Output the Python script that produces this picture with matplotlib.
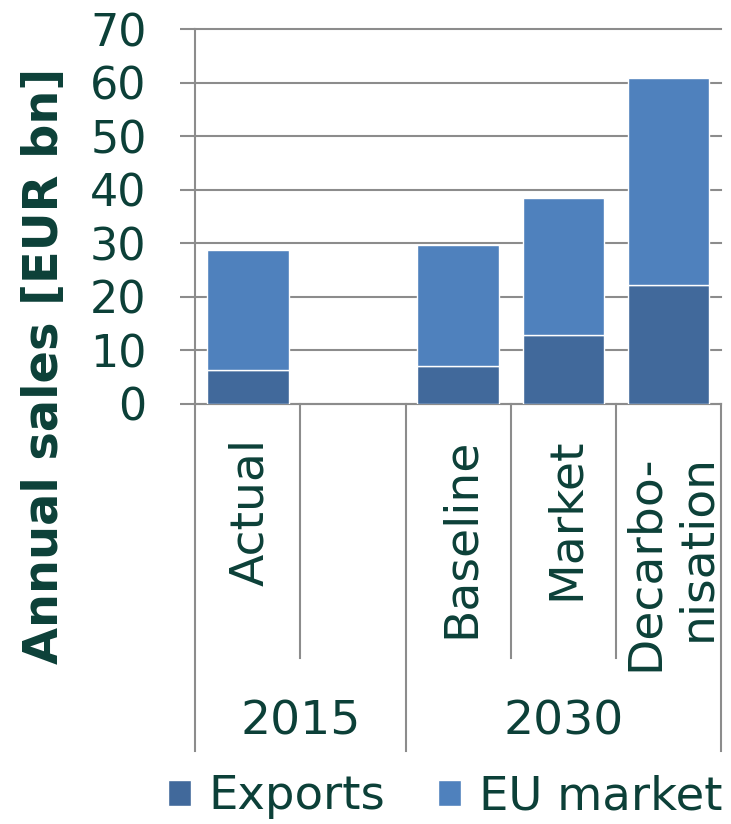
import matplotlib

matplotlib.use("Agg")
import matplotlib.pyplot as plt
import matplotlib.transforms as mtransforms
import numpy as np
from matplotlib.lines import Line2D

# data (EUR bn)
categories = ["Actual", "", "Baseline", "Market", "Decarbo-\nnisation"]
groups = ["2015", "2030"]
group_members = [[0, 1], [2, 3, 4]]
exports = [6.2, np.nan, 7.0, 12.8, 22.1]
eu_market = [22.5, np.nan, 22.6, 25.7, 38.8]
yticks = [0, 10, 20, 30, 40, 50, 60, 70]

TXT = "#0C4038"
GRID = "#8C8C8C"
C_EXP = "#41699B"
C_EU = "#4F81BD"


def main():
    plt.rcParams["font.family"] = ["DejaVu Sans"]

    fig = plt.figure(figsize=(7.31, 8.24), dpi=100)
    ax = fig.add_axes([0.2672, 0.5101, 0.7191, 0.4547])

    x = np.arange(len(categories))
    b1 = ax.bar(x, exports, width=0.775, color=C_EXP, edgecolor="white",
                linewidth=1, label="Exports", zorder=3)
    b2 = ax.bar(x, eu_market, width=0.775, bottom=exports, color=C_EU,
                edgecolor="white", linewidth=1, label="EU market", zorder=3)

    ax.set_xlim(-0.5, len(categories) - 0.5)
    ax.set_ylim(0, 70)
    ax.set_yticks(yticks)
    ax.yaxis.grid(True, color=GRID, linewidth=1.5)
    for gl in ax.get_ygridlines():
        gl.set_clip_on(False)
    ax.set_axisbelow(True)

    for s in ["top", "right"]:
        ax.spines[s].set_visible(False)
    for s in ["left", "bottom"]:
        ax.spines[s].set_color(GRID)
        ax.spines[s].set_linewidth(1.5)

    ax.tick_params(axis="y", length=11, width=1.5, color=GRID, pad=24,
                   labelsize=32, labelcolor=TXT)
    ax.tick_params(axis="x", bottom=False, labelbottom=False)

    # two level category axis below the plot
    trans = mtransforms.blended_transform_factory(ax.transData, fig.transFigure)
    y_axis = 0.5101
    y_inner = 1 - 658 / 824
    y_outer = 1 - 751 / 824

    outer = [-0.5]
    for members in group_members:
        outer.append(members[-1] + 0.5)
    for members in group_members:
        for m in members[:-1]:
            ax.add_line(Line2D([m + 0.5, m + 0.5], [y_axis, y_inner], transform=trans,
                               color=GRID, linewidth=1.5, clip_on=False))
    for xb in outer:
        ax.add_line(Line2D([xb, xb], [y_axis, y_outer], transform=trans,
                           color=GRID, linewidth=1.5, clip_on=False))

    for i, lab in enumerate(categories):
        top = 1 - 438 / 824 - 0.02 * lab.count("\n")
        ax.text(i + 0.03, top, lab, transform=trans, rotation=90, ha="center",
                va="top", fontsize=34, color=TXT, multialignment="right",
                linespacing=1.2)

    for g, members in zip(groups, group_members):
        ax.text(np.mean([members[0] - 0.5, members[-1] + 0.5]), 1 - 722 / 824, g,
                transform=trans, ha="center", va="center", fontsize=34, color=TXT)

    fig.text(45 / 731, 1 - 366 / 824, "Annual sales [EUR bn]", rotation=90,
             ha="center", va="center", fontsize=34.5, fontweight="bold", color=TXT)

    fig.legend(handles=[b1, b2], labels=["Exports", "EU market"], loc="center",
               bbox_to_anchor=(0.609, 0.033), ncol=2, frameon=False, fontsize=33.5,
               handlelength=0.5, handleheight=0.5, handletextpad=0.38,
               columnspacing=1.13, labelcolor=TXT, borderaxespad=0, borderpad=0)

    fig.savefig("out.png", dpi=100)


if __name__ == "__main__":
    main()
